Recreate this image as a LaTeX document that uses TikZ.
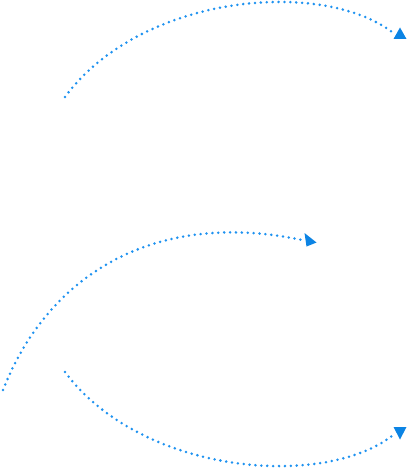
\documentclass[tikz,border=0pt]{standalone}
\definecolor{dotblue}{RGB}{30,146,240}
\definecolor{arrowblue}{RGB}{12,132,228}
\begin{document}
\begin{tikzpicture}[x=1pt,y=-1pt,
  dotline/.style={draw=dotblue,line width=2.8pt,line cap=round,dash pattern=on 0pt off 5.9pt},
  headtri/.style={fill=arrowblue,draw=none}]
\useasboundingbox (0,0) rectangle (407,468);
% arrow 1
\coordinate (a1s) at (65,97);
\coordinate (a1e) at (392,32);
\draw[dotline] (a1s) .. controls (140,-5) and (320,-22) .. (a1e);
\fill[headtri] (400,27.5) -- (406.5,39) -- (393.5,39) -- cycle;
% arrow 2
\coordinate (a2s) at (3,390);
\coordinate (a2e) at (302,240);
\draw[dotline] (a2s) .. controls (50,270) and (160,210) .. (a2e);
\fill[headtri] (304.5,233) -- (316.5,242.5) -- (306.5,246.5) -- cycle;
% arrow 3
\coordinate (a3s) at (65,372);
\coordinate (a3e) at (392,436);
\draw[dotline] (a3s) .. controls (140,473) and (320,490) .. (a3e);
\fill[headtri] (393.5,427) -- (406.5,427) -- (400,439.5) -- cycle;
\end{tikzpicture}
\end{document}
